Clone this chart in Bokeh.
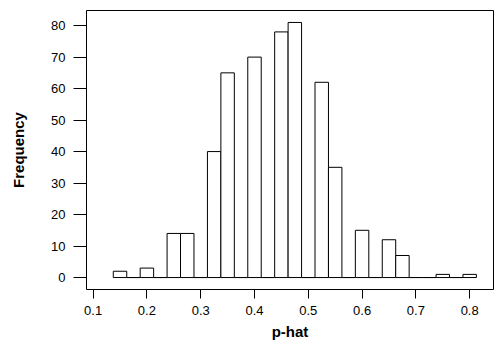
from bokeh.plotting import figure
from bokeh.models import Range1d, FixedTicker, ColumnDataSource
from bokeh.embed import file_html
from bokeh.resources import INLINE

# data
bin_centers = [0.150, 0.175, 0.200, 0.225, 0.250, 0.275, 0.300, 0.325, 0.350, 0.375,
               0.400, 0.425, 0.450, 0.475, 0.500, 0.525, 0.550, 0.575, 0.600, 0.625,
               0.650, 0.675, 0.700, 0.725, 0.750, 0.775, 0.800]
counts = [2, 0, 3, 0, 14, 14, 0, 40, 65, 0,
          70, 0, 78, 81, 0, 62, 35, 0, 15, 0,
          12, 7, 0, 0, 1, 0, 1]
bin_width = 0.025
x_ticks = [0.1, 0.2, 0.3, 0.4, 0.5, 0.6, 0.7, 0.8]
y_ticks = [0, 10, 20, 30, 40, 50, 60, 70, 80]

src = ColumnDataSource(dict(
    left=[c - bin_width / 2 for c in bin_centers],
    right=[c + bin_width / 2 for c in bin_centers],
    top=counts,
    bottom=[0] * len(counts),
))

p = figure(width=501, height=353, output_backend="svg", toolbar_location=None,
           x_range=Range1d(0.0877, 0.8443), y_range=Range1d(-3.8, 84.8),
           min_border_left=86, min_border_right=8, min_border_top=10, min_border_bottom=64)
p.quad(left="left", right="right", top="top", bottom="bottom", source=src,
       fill_color="white", line_color="black", line_width=1)

p.xgrid.visible = False
p.ygrid.visible = False
p.outline_line_color = "black"
p.outline_line_width = 1
p.background_fill_color = "white"
p.border_fill_color = "white"

font = "Liberation Sans"
for ax in (p.xaxis[0], p.yaxis[0]):
    ax.axis_line_color = None
    ax.minor_tick_line_color = None
    ax.major_tick_in = 0
    ax.major_tick_line_color = "black"
    ax.major_label_text_font = font
    ax.major_label_text_font_size = "13px"
    ax.major_label_text_color = "black"
    ax.axis_label_text_font = font
    ax.axis_label_text_font_size = "15px"
    ax.axis_label_text_font_style = "bold"
    ax.axis_label_text_color = "black"

p.xaxis.ticker = FixedTicker(ticks=x_ticks)
p.yaxis.ticker = FixedTicker(ticks=y_ticks)
p.xaxis.major_tick_out = 9
p.yaxis.major_tick_out = 13
p.xaxis.major_label_standoff = 7
p.yaxis.major_label_standoff = 8
p.yaxis.major_label_orientation = "horizontal"
p.xaxis.axis_label = "p-hat"
p.yaxis.axis_label = "Frequency"
p.xaxis.axis_label_standoff = 5
p.yaxis.axis_label_standoff = 21

open("out.html", "w").write(file_html(p, INLINE))
